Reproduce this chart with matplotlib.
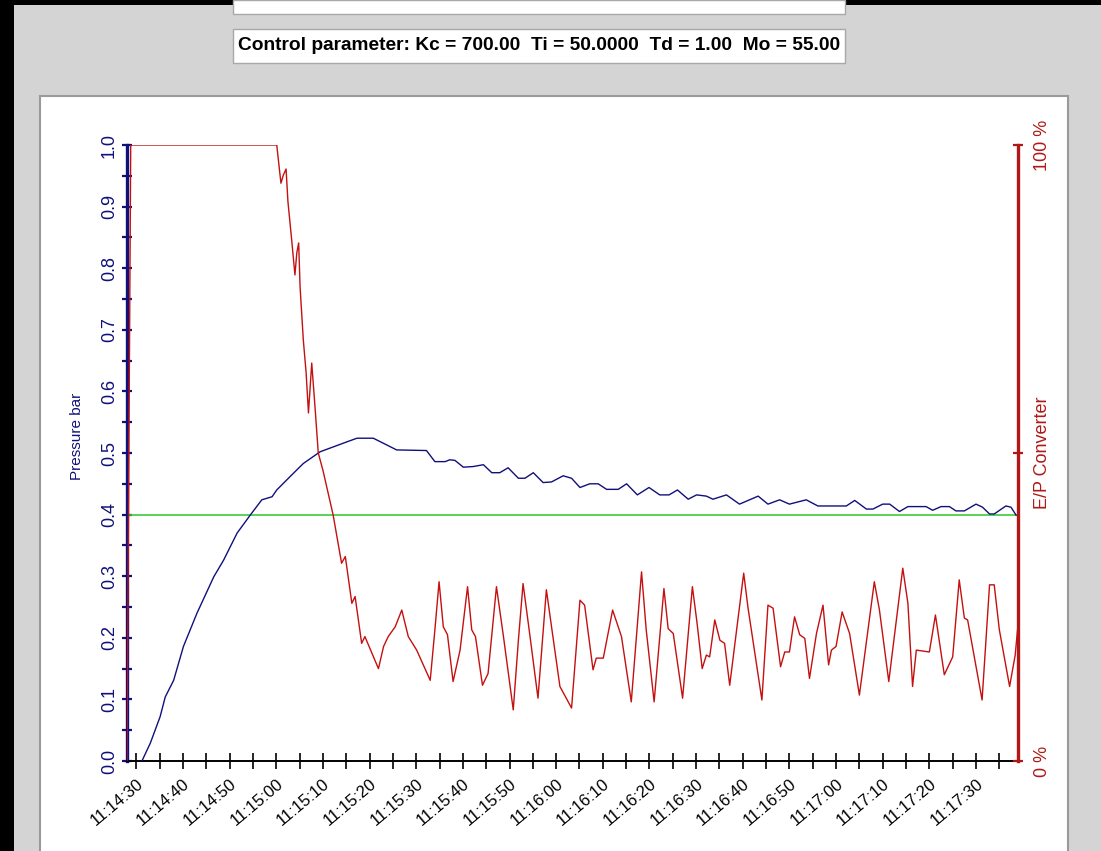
import matplotlib
matplotlib.use("Agg")
import matplotlib.pyplot as plt
import numpy as np
from matplotlib.patches import Rectangle

# time in seconds after 11:14:30
t_pressure = [1.2, 3.0, 5.1, 6.2, 8.0, 10.1, 13.0, 16.6, 18.7, 21.6, 24.4, 26.9, 29.1, 30.1,
              33.0, 35.8, 39.4, 45.1, 47.3, 50.8, 55.8, 62.2, 64.0, 66.2, 67.2, 68.3, 70.1,
              72.2, 74.4, 76.2, 77.9, 79.7, 81.9, 83.3, 85.1, 87.2, 89.0, 91.5, 93.3, 95.1,
              97.2, 99.0, 100.8, 103.3, 105.1, 107.4, 109.9, 112.2, 114.2, 116.0, 118.3,
              120.1, 122.2, 123.6, 126.5, 129.3, 133.3, 135.4, 137.9, 140.0, 143.6, 146.1,
              152.2, 154.0, 156.5, 157.9, 160.0, 161.5, 163.6, 165.4, 169.3, 170.7, 172.5,
              174.3, 175.7, 177.5, 180.0, 181.4, 182.9, 183.9, 186.4, 187.5, 188.6]
pressure = [0.0, 0.029, 0.072, 0.104, 0.131, 0.186, 0.240, 0.299, 0.326, 0.370, 0.399, 0.424,
            0.429, 0.440, 0.462, 0.483, 0.502, 0.518, 0.524, 0.524, 0.505, 0.504, 0.486, 0.486,
            0.489, 0.488, 0.477, 0.478, 0.481, 0.468, 0.468, 0.476, 0.459, 0.459, 0.468, 0.452,
            0.453, 0.463, 0.459, 0.444, 0.450, 0.450, 0.441, 0.441, 0.450, 0.432, 0.444, 0.432,
            0.432, 0.440, 0.425, 0.432, 0.430, 0.425, 0.432, 0.417, 0.430, 0.417, 0.424, 0.417,
            0.424, 0.414, 0.414, 0.423, 0.409, 0.409, 0.417, 0.417, 0.405, 0.413, 0.413, 0.407,
            0.413, 0.413, 0.406, 0.406, 0.417, 0.412, 0.401, 0.401, 0.414, 0.412, 0.399]

t_ep = [-2.0, -1.2, 30.1, 31.0, 31.5, 32.1, 32.5, 33.3, 34.0, 34.4, 34.8, 35.1, 35.8, 36.4,
        36.9, 37.6, 38.3, 39.0, 40.0, 42.2, 44.0, 44.8, 46.2, 46.9, 48.3, 49.0, 51.9, 53.0,
        54.0, 55.5, 56.9, 58.3, 60.1, 63.0, 64.0, 64.9, 65.8, 66.7, 67.9, 69.4, 71.0, 71.9,
        72.7, 74.2, 75.4, 77.2, 78.7, 80.8, 81.9, 82.9, 84.4, 86.1, 87.9, 89.3, 90.8, 93.3,
        95.1, 96.1, 97.9, 98.6, 100.1, 102.1, 104.0, 106.1, 108.3, 109.3, 111.0, 113.1, 114.0,
        115.1, 117.1, 119.2, 120.2, 121.3, 122.2, 122.9, 124.0, 125.1, 126.1, 127.2, 130.2,
        131.1, 134.1, 135.4, 136.5, 138.1, 139.0, 140.0, 141.1, 142.2, 143.3, 144.3, 145.8,
        147.2, 148.4, 149.0, 150.0, 151.3, 152.9, 155.0, 158.2, 159.3, 161.3, 164.3, 165.4,
        166.4, 167.2, 170.0, 171.3, 173.2, 175.0, 176.4, 177.5, 178.2, 181.3, 182.9, 183.9,
        185.0, 187.2, 188.4, 188.9]
ep = [0, 100, 100, 93.8, 95.1, 96.1, 90.8, 84.6, 78.9, 82.5, 84.1, 77.0, 68.3, 63.0, 56.5,
      64.6, 57.5, 50.0, 47.2, 39.9, 32.1, 33.2, 25.6, 26.7, 19.1, 20.2, 15.0, 18.6, 20.2, 21.8,
      24.5, 20.2, 18.0, 13.1, 21.3, 29.1, 21.8, 20.5, 12.9, 18.0, 28.3, 21.3, 20.2, 12.3, 14.2,
      28.3, 20.2, 8.3, 19.6, 28.8, 20.2, 10.2, 27.8, 20.2, 12.1, 8.6, 26.1, 25.3, 14.8, 16.7,
      16.7, 24.5, 20.2, 9.6, 30.7, 21.3, 9.6, 28.0, 21.5, 20.7, 10.2, 28.3, 22.4, 15.0, 17.2,
      16.9, 22.9, 19.6, 19.1, 12.3, 30.5, 25.0, 9.9, 25.3, 24.8, 15.3, 17.7, 17.7, 23.4, 20.5,
      19.9, 13.4, 20.7, 25.3, 15.6, 18.0, 18.6, 24.2, 20.7, 10.7, 29.1, 24.5, 12.9, 31.3, 25.6,
      12.1, 18.0, 17.7, 23.7, 14.0, 16.9, 29.4, 23.2, 22.9, 9.9, 28.6, 28.6, 21.3, 12.1, 17.2,
      21.3]

setpoint = 0.4
x_labels = ["11:14:30", "11:14:40", "11:14:50", "11:15:00", "11:15:10", "11:15:20",
            "11:15:30", "11:15:40", "11:15:50", "11:16:00", "11:16:10", "11:16:20",
            "11:16:30", "11:16:40", "11:16:50", "11:17:00", "11:17:10", "11:17:20",
            "11:17:30"]
right_labels = ["0 %", "E/P Converter", "100 %"]
control_text = "Control parameter: Kc = 700.00  Ti = 50.0000  Td = 1.00  Mo = 55.00"

W, H = 1101, 851
NAVY = "#10107a"
DRED = "#b01818"
plt.rcParams["font.family"] = ["Liberation Sans", "DejaVu Sans"]

fig = plt.figure(figsize=(W / 100, H / 100), dpi=100)
fig.patch.set_facecolor("#d4d4d4")


def box(x0, y0, x1, y1, **kw):
    # rectangle given in pixels from the top-left corner
    fig.patches.append(Rectangle((x0 / W, 1 - y1 / H), (x1 - x0) / W, (y1 - y0) / H,
                                 transform=fig.transFigure, zorder=-5, **kw))


box(0, 0, 14, H, facecolor="black", edgecolor="none")
box(0, 0, W, 5, facecolor="black", edgecolor="none")
box(233, 0, 845, 14, facecolor="white", edgecolor="#a8a8a8", lw=1)
box(233, 29, 845, 63, facecolor="white", edgecolor="#a8a8a8", lw=1)
box(40, 96, 1068, H + 5, facecolor="white", edgecolor="#9a9a9a", lw=1.5)
fig.text(238 / W, 1 - 46 / H, control_text, ha="left", va="center", fontsize=13.8,
         fontweight="bold", family=["Liberation Sans Narrow", "Liberation Sans"])

ax = fig.add_axes([127 / W, 1 - 761 / H, 891 / W, 616 / H])
ax.patch.set_alpha(0)
ax2 = ax.twinx()
ax2.patch.set_alpha(0)

ax.axhline(setpoint, color="#3ccc3c", lw=1.2, zorder=2)
ax.plot(t_pressure, pressure, color=NAVY, lw=1.0, zorder=3)
ax2.plot(t_ep, ep, color="#c41010", lw=1.0, zorder=3)

ax.set_xlim(-2, 189)
ax.set_ylim(0, 1)
ax2.set_ylim(0, 100)

ax.set_xticks(np.arange(0, 190, 10))
ax.set_xticks(np.arange(5, 190, 10), minor=True)
ax.set_xticklabels(x_labels)
ax.tick_params(axis="x", which="both", direction="inout", length=12, width=1.2,
               color="black", labelsize=12, pad=5)
for lab in ax.get_xticklabels():
    lab.set_rotation(40)
    lab.set_ha("right")
    lab.set_va("top")
    lab.set_rotation_mode("anchor")

ax.set_yticks(np.arange(0, 1.01, 0.1))
ax.set_yticks(np.arange(0.05, 1.0, 0.1), minor=True)
ax.set_yticklabels([f"{v:.1f}" for v in np.arange(0, 1.01, 0.1)])
ax.tick_params(axis="y", which="both", direction="inout", length=7, width=1.6,
               color=NAVY, labelcolor=NAVY, labelsize=13, labelrotation=90, pad=3)
for lab in ax.get_yticklabels():
    lab.set_va("center")
ax.set_ylabel("Pressure bar", color=NAVY, fontsize=11)
ax.yaxis.set_label_coords(-0.048, 0.527)

ax2.set_yticks([0, 50, 100])
ax2.set_yticklabels(right_labels)
ax2.tick_params(axis="y", direction="inout", length=7, width=1.6, color=DRED,
                labelcolor=DRED, labelsize=13, labelrotation=90, pad=8)
for lab in ax2.get_yticklabels():
    lab.set_va("center")

for a in (ax, ax2):
    a.spines["top"].set_visible(False)
ax.spines["right"].set_visible(False)
ax2.spines["left"].set_visible(False)
ax2.spines["bottom"].set_visible(False)
ax.spines["left"].set_color(NAVY)
ax.spines["left"].set_linewidth(2.4)
ax.spines["bottom"].set_color("black")
ax.spines["bottom"].set_linewidth(1.4)
ax2.spines["right"].set_color(DRED)
ax2.spines["right"].set_linewidth(2.4)

fig.savefig("out.png", dpi=100, facecolor=fig.get_facecolor())
